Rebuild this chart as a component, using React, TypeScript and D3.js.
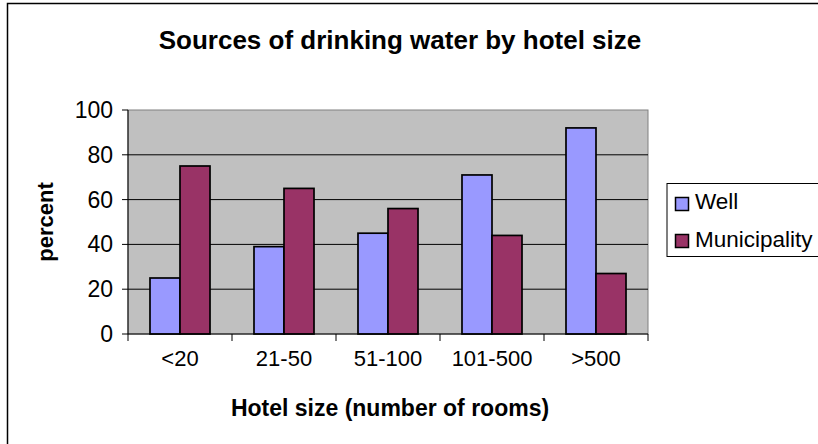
import React from 'react';
import * as d3 from 'd3';

const categories = ['<20', '21-50', '51-100', '101-500', '>500'];
const seriesNames = ['Well', 'Municipality'];
const wellValues = [25, 39, 45, 71, 92];
const municipalityValues = [75, 65, 56, 44, 27];
const yTicks = [0, 20, 40, 60, 80, 100];
const colors = ['#9999FF', '#993366'];

const W = 818;
const H = 444;
const plot = { left: 128, right: 648, top: 110, bottom: 334 };
const font = 'Liberation Sans, Arial, sans-serif';

function App() {
  const x = d3.scaleBand().domain(categories).range([plot.left, plot.right]).paddingInner(0).paddingOuter(0);
  const inner = d3.scaleBand().domain(seriesNames).range([0, x.bandwidth()]).paddingOuter(0.733).paddingInner(0);
  const y = d3.scaleLinear().domain([0, 100]).range([plot.bottom, plot.top]);
  const series = [wellValues, municipalityValues];

  return (
    <svg width={W} height={H} style={{ position: 'absolute', left: 0, top: 0, background: '#fff' }}>
      <rect x={7.5} y={3.5} width={W} height={H} fill="#fff" stroke="#000" strokeWidth={1.5} />
      <text x={400} y={49} textAnchor="middle" fontFamily={font} fontWeight="bold" fontSize={26}>
        Sources of drinking water by hotel size
      </text>
      <rect x={plot.left} y={plot.top} width={plot.right - plot.left} height={plot.bottom - plot.top} fill="#C0C0C0" stroke="#808080" strokeWidth={1} />
      {yTicks.filter(t => t > 0 && t < 100).map(t => (
        <line key={t} x1={plot.left} x2={plot.right} y1={y(t)} y2={y(t)} stroke="#000" strokeWidth={1} />
      ))}
      {series.map((vals, si) =>
        categories.map((c, ci) => (
          <rect
            key={si + '-' + ci}
            x={(x(c) as number) + (inner(seriesNames[si]) as number)}
            y={y(vals[ci])}
            width={inner.bandwidth()}
            height={y(0) - y(vals[ci])}
            fill={colors[si]}
            stroke="#000"
            strokeWidth={1.7}
          />
        ))
      )}
      <line x1={plot.left} x2={plot.left} y1={plot.top} y2={plot.bottom} stroke="#000" />
      <line x1={plot.left} x2={plot.right} y1={plot.bottom} y2={plot.bottom} stroke="#000" />
      {yTicks.map(t => (
        <g key={t}>
          <line x1={plot.left - 6} x2={plot.left} y1={y(t)} y2={y(t)} stroke="#000" />
          <text x={plot.left - 15} y={y(t) + 8} textAnchor="end" fontFamily={font} fontSize={23}>{t}</text>
        </g>
      ))}
      {d3.range(categories.length + 1).map(i => {
        const xx = plot.left + i * x.step();
        return <line key={i} x1={xx} x2={xx} y1={plot.bottom} y2={plot.bottom + 7} stroke="#000" />;
      })}
      {categories.map(c => (
        <text key={c} x={(x(c) as number) + x.bandwidth() / 2} y={366} textAnchor="middle" fontFamily={font} fontSize={22}>{c}</text>
      ))}
      <text x={390} y={416} textAnchor="middle" fontFamily={font} fontWeight="bold" fontSize={23}>
        Hotel size (number of rooms)
      </text>
      <text transform={`translate(53,${(plot.top + plot.bottom) / 2}) rotate(-90)`} textAnchor="middle" fontFamily={font} fontWeight="bold" fontSize={22}>
        percent
      </text>
      <rect x={667} y={183.5} width={160} height={73} fill="#fff" stroke="#000" strokeWidth={1} />
      {seriesNames.map((s, i) => (
        <g key={s}>
          <rect x={675.5} y={197.5 + i * 37} width={13} height={13} fill={colors[i]} stroke="#000" strokeWidth={1.5} />
          <text x={695} y={209 + i * 38} fontFamily={font} fontSize={22.5}>{s}</text>
        </g>
      ))}
    </svg>
  );
}

export default App;
